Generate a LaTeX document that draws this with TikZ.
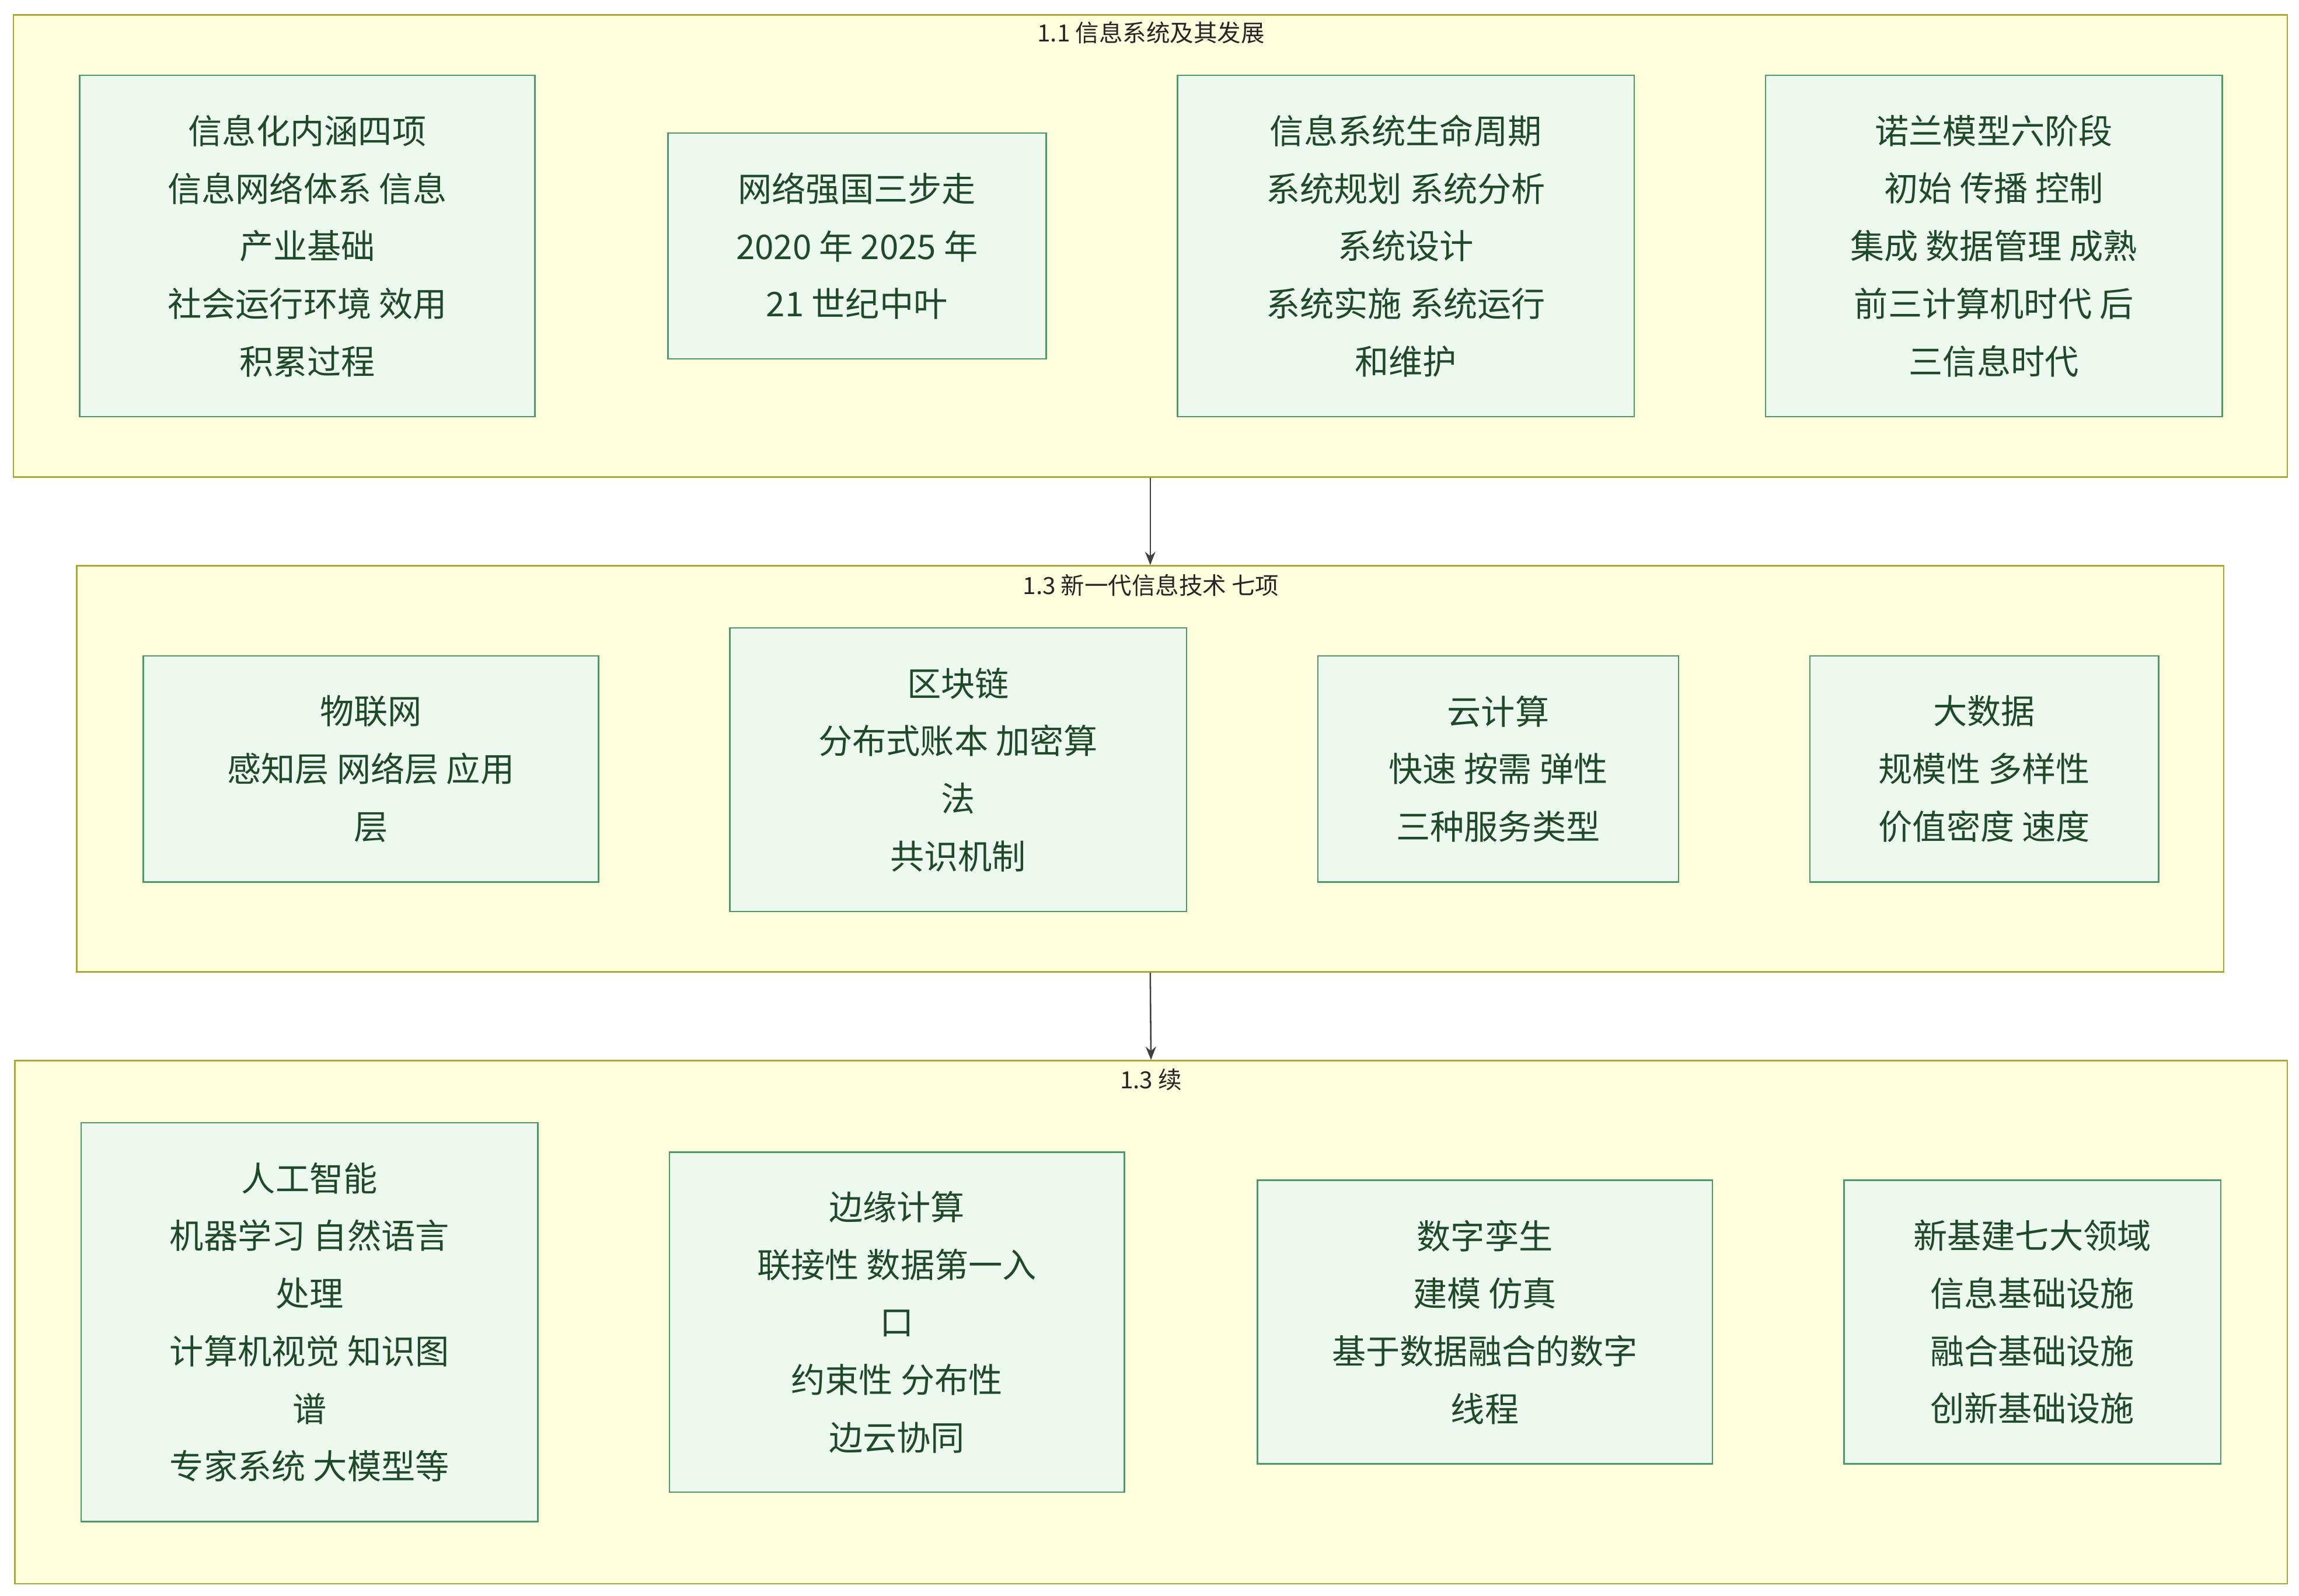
\documentclass[tikz,border=0pt]{standalone}
\usepackage{fontspec}
\setmainfont{Noto Sans CJK SC}
\usetikzlibrary{arrows.meta}
\definecolor{cfill}{HTML}{FFFFDE}
\definecolor{cdraw}{HTML}{AAAA33}
\definecolor{bfill}{HTML}{EDF8EE}
\definecolor{bdraw}{HTML}{4C9A6A}
\definecolor{btext}{HTML}{1E4A2A}
\tikzset{
 clu/.style={draw=cdraw,fill=cfill,line width=1pt,inner sep=0pt},
 ctitle/.style={font=\fontsize{16}{18}\selectfont,text=black!85},
 box/.style={draw=bdraw,fill=bfill,line width=1pt,align=center,text=btext,
   font=\fontsize{23}{39}\selectfont,inner sep=0pt},
 arr/.style={-{Stealth[length=9pt,width=7pt]},line width=1pt,draw=black!75}
}
\newcommand{\bx}[6]{\node[box,minimum width=#3-#1,minimum height=#4-#2] (#5) at ({(#1+#3)/2},{(#2+#4)/2}) {#6};}
\begin{document}
\begin{tikzpicture}[x=1pt,y=-1pt]
\useasboundingbox (0,0) rectangle (1556,1080);
\node[clu,minimum width=1539,minimum height=313] (c1) at (778.5,166.5) {};
\node[ctitle] at (779,22) {1.1 信息系统及其发展};
\node[clu,minimum width=1453,minimum height=275] (c2) at (778.5,520.5) {};
\node[ctitle] at (779,396) {1.3 新一代信息技术 七项};
\node[clu,minimum width=1538,minimum height=354] (c3) at (779,895) {};
\node[ctitle] at (779,731) {1.3 续};
\draw[arr] (c1.south) -- (c2.north);
\draw[arr] (c2.south) -- (c3.north);
\bx{54}{51}{362}{282}{a1}{信息化内涵四项\\信息网络体系 信息\\产业基础\\社会运行环境 效用\\积累过程}
\bx{452}{90}{708}{243}{a2}{网络强国三步走\\2020 年 2025 年\\21 世纪中叶}
\bx{797}{51}{1106}{282}{a3}{信息系统生命周期\\系统规划 系统分析\\系统设计\\系统实施 系统运行\\和维护}
\bx{1195}{51}{1504}{282}{a4}{诺兰模型六阶段\\初始 传播 控制\\集成 数据管理 成熟\\前三计算机时代 后\\三信息时代}
\bx{97}{444}{405}{597}{b1}{物联网\\感知层 网络层 应用\\层}
\bx{494}{425}{803}{617}{b2}{区块链\\分布式账本 加密算\\法\\共识机制}
\bx{892}{444}{1136}{597}{b3}{云计算\\快速 按需 弹性\\三种服务类型}
\bx{1225}{444}{1461}{597}{b4}{大数据\\规模性 多样性\\价值密度 速度}
\bx{55}{760}{364}{1030}{d1}{人工智能\\机器学习 自然语言\\处理\\计算机视觉 知识图\\谱\\专家系统 大模型等}
\bx{453}{780}{761}{1010}{d2}{边缘计算\\联接性 数据第一入\\口\\约束性 分布性\\边云协同}
\bx{851}{799}{1159}{991}{d3}{数字孪生\\建模 仿真\\基于数据融合的数字\\线程}
\bx{1248}{799}{1503}{991}{d4}{新基建七大领域\\信息基础设施\\融合基础设施\\创新基础设施}
\end{tikzpicture}
\end{document}
